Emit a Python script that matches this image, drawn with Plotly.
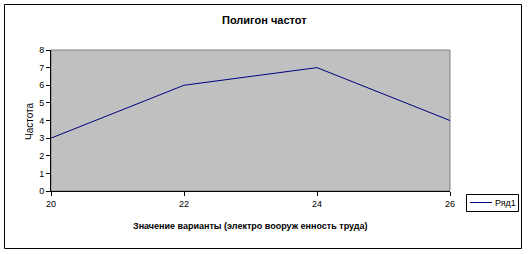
import plotly.graph_objects as go

x_vals = [20, 22, 24, 26]
y_vals = [3, 6, 7, 4]
series_name = "Ряд1"
title_text = "Полигон частот"
x_title = "Значение варианты (электро вооруж енность труда)"
y_title = "Частота"
line_color = "#000080"

W, H = 528, 254
L, R, T, B = 51, 450, 50, 191
pw, ph = R - L, B - T

def px(xp):
    return (xp - L) / pw

def py(yp):
    return (B - yp) / ph

FONT = "Arial, Liberation Sans, sans-serif"

fig = go.Figure()
fig.add_trace(go.Scatter(x=x_vals, y=y_vals, mode="lines", name=series_name,
                         line=dict(color=line_color, width=1)))

fig.update_layout(
    width=W, height=H,
    margin=dict(l=L, r=W - R, t=T, b=H - B, pad=0, autoexpand=False),
    paper_bgcolor="white", plot_bgcolor="#C0C0C0",
    font=dict(family=FONT, size=9, color="black"),
    showlegend=False,
    annotations=[
        dict(text="<b>" + title_text + "</b>", x=px(264), y=py(20), xref="paper", yref="paper",
             showarrow=False, font=dict(size=11, family=FONT), xanchor="center", yanchor="middle"),
        dict(text="<b>" + x_title + "</b>", x=px(250), y=py(226), xref="paper", yref="paper",
             showarrow=False, font=dict(size=9, family=FONT), xanchor="center", yanchor="middle"),
        dict(text=y_title, x=px(29), y=py(121), xref="paper", yref="paper",
             showarrow=False, font=dict(size=10, family=FONT), xanchor="center", yanchor="middle",
             textangle=-90),
        dict(text=series_name, x=px(493), y=py(202.5), xref="paper", yref="paper",
             showarrow=False, font=dict(size=9, family=FONT), xanchor="left", yanchor="middle"),
    ],
    shapes=[
        dict(type="rect", xref="paper", yref="paper", x0=px(4.5), x1=px(521.5), y0=py(248.5), y1=py(4.5),
             line=dict(color="black", width=1), fillcolor="rgba(0,0,0,0)", layer="below"),
        dict(type="rect", xref="paper", yref="paper", x0=0, x1=1, y0=0, y1=1,
             line=dict(color="#808080", width=1), fillcolor="rgba(0,0,0,0)", layer="below"),
        dict(type="rect", xref="paper", yref="paper", x0=px(466.5), x1=px(518.5), y0=py(211.5), y1=py(194.5),
             line=dict(color="black", width=1), fillcolor="white", layer="above"),
        dict(type="line", xref="paper", yref="paper", x0=px(470), x1=px(492), y0=py(202.5), y1=py(202.5),
             line=dict(color=line_color, width=1), layer="above"),
    ],
)

fig.update_xaxes(range=[20, 26], tickvals=[20, 22, 24, 26], showgrid=False, zeroline=False,
                 showline=True, linecolor="black", linewidth=1, ticks="outside", ticklen=4,
                 tickcolor="black", tickfont=dict(size=9, family=FONT))
fig.update_yaxes(range=[0, 8], dtick=1, showgrid=False, zeroline=False,
                 showline=True, linecolor="black", linewidth=1, ticks="outside", ticklen=4,
                 tickcolor="black", tickfont=dict(size=9, family=FONT))

fig.write_html("out.html")
